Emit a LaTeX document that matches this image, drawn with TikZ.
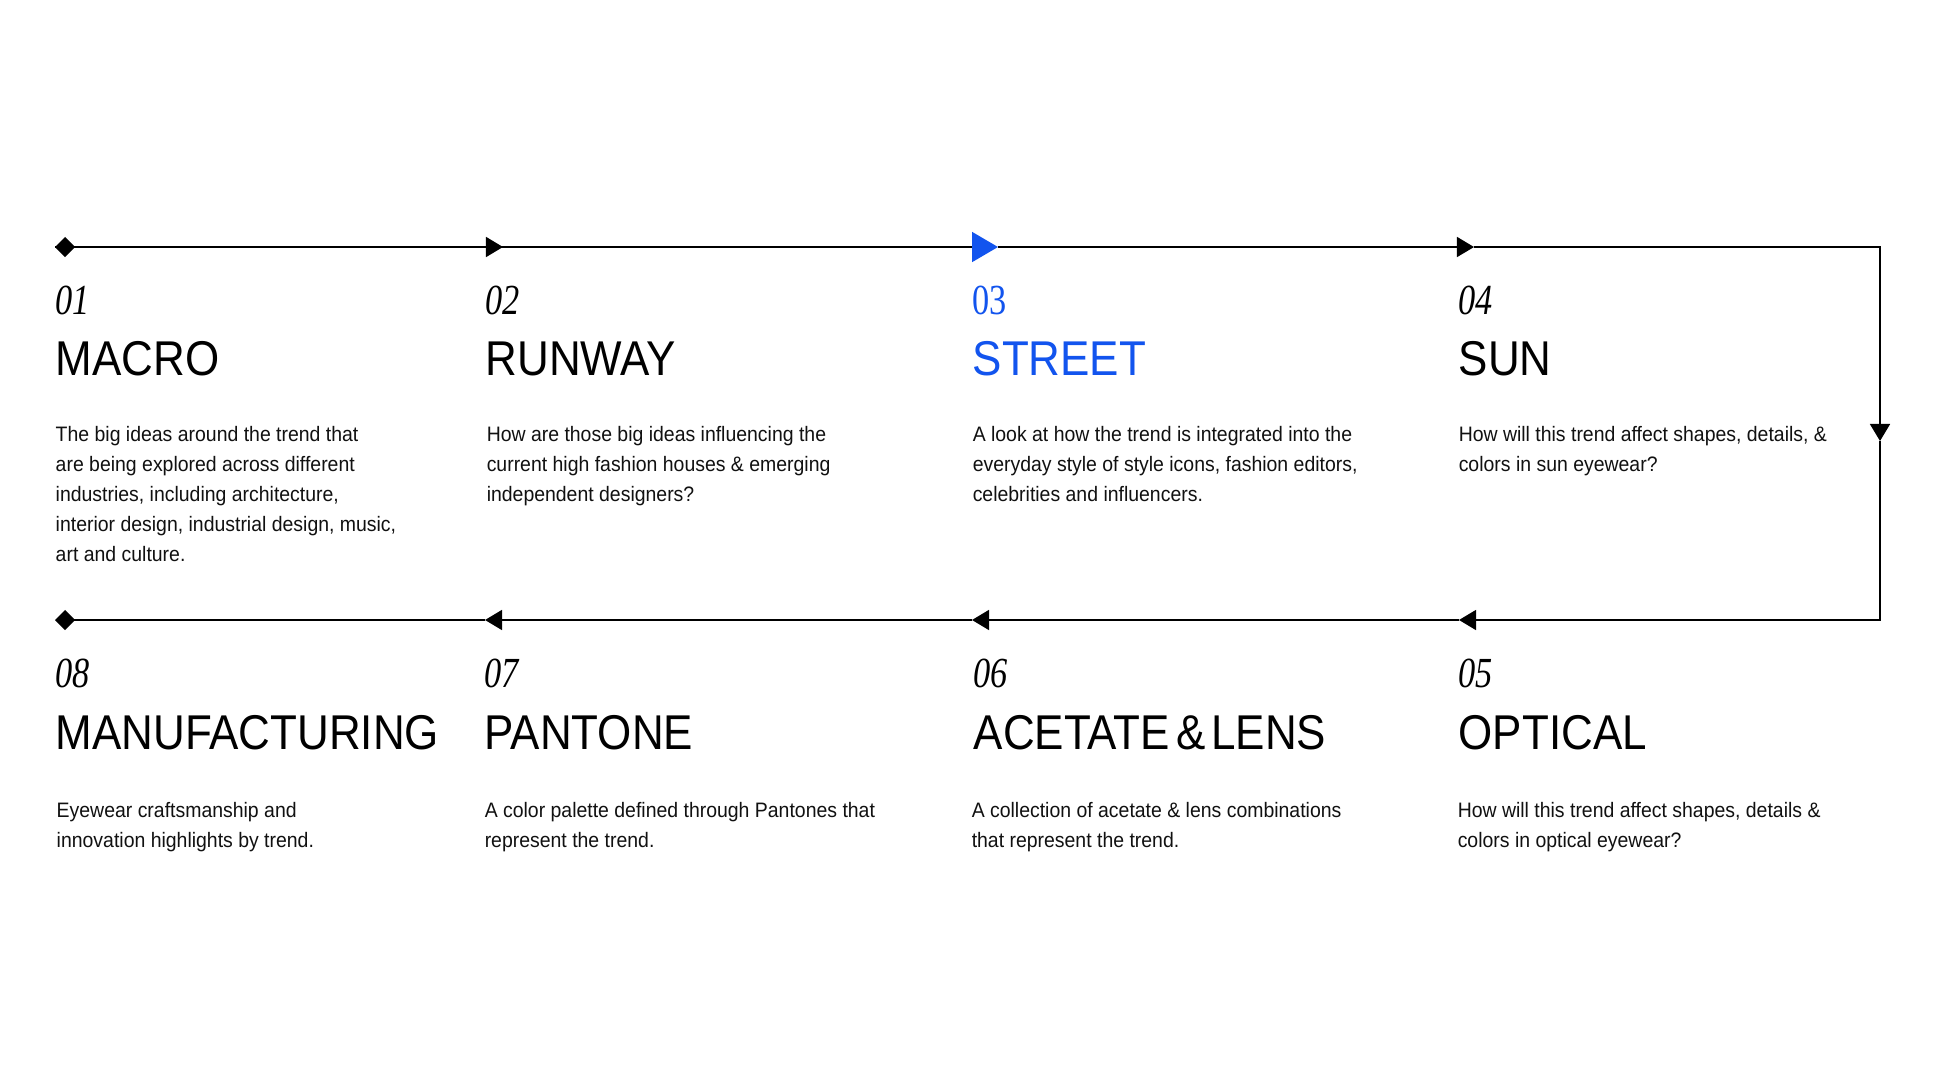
\documentclass[tikz,border=0pt]{standalone}
\usepackage{fontspec}
\setmainfont{Liberation Sans}
\newfontfamily\ttlfont[FakeStretch=0.9, WordSpace=0.5]{Liberation Sans}
\newfontfamily\txtfont[FakeStretch=0.93]{Liberation Sans}
\newfontfamily\numfont[FakeStretch=0.8]{Liberation Serif}
\usetikzlibrary{arrows.meta}
\definecolor{streetblue}{RGB}{18,84,238}
\definecolor{ink}{RGB}{17,17,17}

\begin{document}
\begin{tikzpicture}[x=0.02cm, y=-0.02cm, line width=0.85pt,
  num/.style={anchor=base west, inner sep=0, font=\numfont\itshape\fontsize{24.4}{24.4}\selectfont},
  ttl/.style={anchor=base west, inner sep=0, font=\ttlfont\fontsize{27.8}{27.8}\selectfont},
  % base west of a multi-line text is the baseline of its last line
  txt/.style={anchor=base west, inner sep=0, align=left, text=ink,
    font=\txtfont\fontsize{11.9}{17.07}\selectfont},
  tri/.style={-{Triangle[length=9.7pt, width=11.4pt]}},
  bigtri/.style={-{Triangle[length=14.8pt, width=17.1pt, color=streetblue]}},
  dia/.style={{Turned Square[length=11.4pt, width=11.4pt]}-}]
  \path[use as bounding box, fill=white] (0,0) rectangle (1936,1089);

  % line points
  \coordinate (p1) at (55,247);
  \coordinate (p2) at (503,247);
  \coordinate (p3) at (998,247);
  \coordinate (p4) at (1474,247);
  \coordinate (c1) at (1880,247);
  \coordinate (p5) at (1880,441);
  \coordinate (c2) at (1880,620);
  \coordinate (p6) at (1459,620);
  \coordinate (p7) at (972,620);
  \coordinate (p8) at (485,620);
  \coordinate (p9) at (55,620);

  \draw [dia] (p1) -- (p2);
  \draw [tri] (p1) -- (p2);
  \draw [bigtri] (p2) -- (p3);
  \draw [tri] (p3) -- (p4);
  \draw [tri] (p4) -- (c1) -- (p5);
  \draw [tri] (p5) -- (c2) -- (p6);
  \draw [tri] (p6) -- (p7);
  \draw [tri] (p7) -- (p8);
  \draw [-{Turned Square[length=11.4pt, width=11.4pt]}] (p8) -- (p9);

  % top row
  \node [num] (num1) at (55,314) {01};
  \node [ttl] (ttl1) at (55,375) {MACRO};
  \node [txt] (txt1) at (55,561) {The big ideas around the trend that\\are being explored across different\\industries, including architecture,\\interior design, industrial design, music,\\art and culture.};

  \node [num] (num2) at (485,314) {02};
  \node [ttl] (ttl2) at (485,375) {RUNWAY};
  \node [txt] (txt2) at (486,501) {How are those big ideas influencing the\\current high fashion houses \& emerging\\independent designers?};

  \node [num, font=\numfont\fontsize{24.4}{24.4}\selectfont, text=streetblue] (num3) at (972,314) {03};
  \node [ttl, text=streetblue] (ttl3) at (972,375) {STREET};
  \node [txt] (txt3) at (972,501) {A look at how the trend is integrated into the\\everyday style of style icons, fashion editors,\\celebrities and influencers.};

  \node [num] (num4) at (1458,314) {04};
  \node [ttl] (ttl4) at (1458,375) {SUN};
  \node [txt] (txt4) at (1458,471) {How will this trend affect shapes, details, \&\\colors in sun eyewear?};

  % bottom row
  \node [num] (num8) at (55,687) {08};
  \node [ttl] (ttl8) at (55,749) {MANUFACTURING};
  \node [txt] (txt8) at (56,847) {Eyewear craftsmanship and\\innovation highlights by trend.};

  \node [num] (num7) at (484,687) {07};
  \node [ttl] (ttl7) at (484,749) {PANTONE};
  \node [txt] (txt7) at (484,847) {A color palette defined through Pantones that\\represent the trend.};

  \node [num] (num6) at (973,687) {06};
  \node [ttl] (ttl6) at (973,749) {ACETATE \& LENS};
  \node [txt] (txt6) at (971,847) {A collection of acetate \& lens combinations\\that represent the trend.};

  \node [num] (num5) at (1458,687) {05};
  \node [ttl] (ttl5) at (1458,749) {OPTICAL};
  \node [txt] (txt5) at (1457,847) {How will this trend affect shapes, details \&\\colors in optical eyewear?};
\end{tikzpicture}
\end{document}
